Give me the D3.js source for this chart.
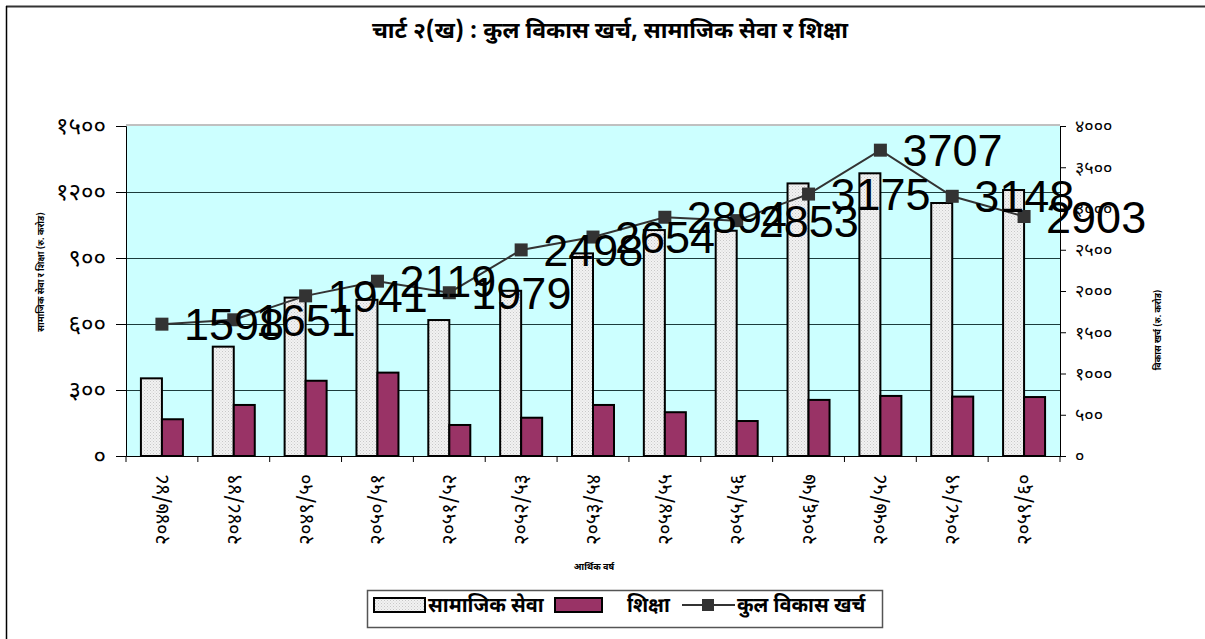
<!DOCTYPE html>
<html>
<head>
<meta charset="utf-8">
<script src="https://cdn.jsdelivr.net/npm/d3@7"></script>
<style>
  body { margin: 0; background: #fff; }
  svg { display: block; }
</style>
</head>
<body>
<svg id="chart" width="1205" height="639"></svg>
<script>
// data
var years = ["२०४७/४८", "२०४८/४९", "२०४९/५०", "२०५०/५१", "२०५१/५२", "२०५२/५३", "२०५३/५४",
  "२०५४/५५", "२०५५/५६", "२०५६/५७", "२०५७/५८", "२०५८/५९", "२०५९/६०"];
var samajik = [353, 497, 720, 710, 618, 751, 921, 1027, 1024, 1239, 1285, 1150, 1209];
var shiksha = [167, 232, 342, 379, 141, 174, 232, 199, 159, 255, 273, 270, 268];
var kul = [1598, 1651, 1941, 2119, 1979, 2498, 2654, 2894, 2853, 3175, 3707, 3148, 2903];
var leftTicks = [0, 300, 600, 900, 1200, 1500];
var rightTicks = [0, 500, 1000, 1500, 2000, 2500, 3000, 3500, 4000];

var devDigits = "०१२३४५६७८९";
function dev(n) {
  return String(n).replace(/[0-9]/g, function(c) { return devDigits[+c]; });
}

var svg = d3.select("#chart");
var devFont = "'Noto Sans Devanagari', 'Lohit Devanagari', 'FreeSans', 'Noto Sans', sans-serif";

var plot = { left: 126, right: 1060, top: 126, bottom: 456 };

var x = d3.scaleBand()
  .domain(years)
  .range([plot.left, plot.right]);

var yLeft = d3.scaleLinear().domain([0, 1500]).range([plot.bottom, plot.top]);
var yRight = d3.scaleLinear().domain([0, 4000]).range([plot.bottom, plot.top]);

// dotted fill for the light bars
var defs = svg.append("defs");
var pat = defs.append("pattern")
  .attr("id", "dots")
  .attr("patternUnits", "userSpaceOnUse")
  .attr("width", 3).attr("height", 3);
pat.append("rect").attr("width", 3).attr("height", 3).attr("fill", "#f2f2f2");
pat.append("rect").attr("x", 0).attr("y", 0).attr("width", 1).attr("height", 1).attr("fill", "#c8c8c8");
pat.append("rect").attr("x", 1.5).attr("y", 1.5).attr("width", 1).attr("height", 1).attr("fill", "#d4d4d4");

// outer frame (top and left only)
svg.append("line").attr("x1", 6).attr("x2", 1205).attr("y1", 6.5).attr("y2", 6.5)
  .attr("stroke", "#333").attr("stroke-width", 2);
svg.append("line").attr("x1", 6.5).attr("x2", 6.5).attr("y1", 6).attr("y2", 639)
  .attr("stroke", "#000").attr("stroke-width", 1.5);

// title
svg.append("text")
  .attr("x", 610).attr("y", 38)
  .attr("text-anchor", "middle")
  .attr("font-family", devFont)
  .attr("font-size", 23).attr("font-weight", "bold")
  .text("चार्ट २(ख) : कुल विकास खर्च, सामाजिक सेवा र शिक्षा");

// plot background
svg.append("rect")
  .attr("x", plot.left).attr("y", plot.top)
  .attr("width", plot.right - plot.left).attr("height", plot.bottom - plot.top)
  .attr("fill", "#ccffff");
svg.append("line")
  .attr("x1", plot.left).attr("x2", plot.right)
  .attr("y1", plot.top - 1).attr("y2", plot.top - 1)
  .attr("stroke", "#c0c0c0").attr("stroke-width", 2);

// gridlines
svg.append("g")
  .selectAll("line")
  .data(leftTicks.slice(1, -1))
  .join("line")
  .attr("x1", plot.left).attr("x2", plot.right)
  .attr("y1", function(d) { return Math.round(yLeft(d)) + 0.5; })
  .attr("y2", function(d) { return Math.round(yLeft(d)) + 0.5; })
  .attr("stroke", "#1c3c3c").attr("stroke-width", 1);

// bars
var barW = 21;
var bars = svg.append("g");
bars.selectAll("rect.sam")
  .data(years)
  .join("rect")
  .attr("class", "sam")
  .attr("x", function(d) { return x(d) + x.bandwidth() / 2 - barW; })
  .attr("y", function(d, i) { return yLeft(samajik[i]); })
  .attr("width", barW)
  .attr("height", function(d, i) { return plot.bottom - yLeft(samajik[i]); })
  .attr("fill", "url(#dots)")
  .attr("stroke", "#000").attr("stroke-width", 2);
bars.selectAll("rect.shi")
  .data(years)
  .join("rect")
  .attr("class", "shi")
  .attr("x", function(d) { return x(d) + x.bandwidth() / 2; })
  .attr("y", function(d, i) { return yLeft(shiksha[i]); })
  .attr("width", barW)
  .attr("height", function(d, i) { return plot.bottom - yLeft(shiksha[i]); })
  .attr("fill", "#993366")
  .attr("stroke", "#000").attr("stroke-width", 2);

// axes
var leftAxis = svg.append("g")
  .attr("transform", "translate(" + plot.left + ",0)")
  .call(d3.axisLeft(yLeft).tickValues(leftTicks).tickSize(10).tickPadding(10).tickFormat(dev));
leftAxis.selectAll("text")
  .attr("font-family", devFont).attr("font-size", 24).attr("fill", "#000");
leftAxis.selectAll("line, path").attr("stroke", "#000");

var rightAxis = svg.append("g")
  .attr("transform", "translate(" + plot.right + ",0)")
  .call(d3.axisRight(yRight).tickValues(rightTicks).tickSize(6).tickPadding(9).tickFormat(dev));
rightAxis.selectAll("text")
  .attr("font-family", devFont).attr("font-size", 18).attr("fill", "#000");
rightAxis.selectAll("line, path").attr("stroke", "#000");

var bottomAxis = svg.append("g")
  .attr("transform", "translate(0," + plot.bottom + ")")
  .call(d3.axisBottom(x).tickSize(0).tickFormat(""));
bottomAxis.select("path").attr("stroke", "#000");
bottomAxis.selectAll("line.sep")
  .data(years.concat(["end"]))
  .join("line")
  .attr("class", "sep")
  .attr("x1", function(d, i) { return plot.left + i * x.step(); })
  .attr("x2", function(d, i) { return plot.left + i * x.step(); })
  .attr("y1", 0).attr("y2", 6)
  .attr("stroke", "#000");

svg.append("g")
  .selectAll("text")
  .data(years)
  .join("text")
  .attr("transform", function(d) {
    return "translate(" + (x(d) + x.bandwidth() / 2 + 7) + "," + 474 + ") rotate(-90)";
  })
  .attr("text-anchor", "end")
  .attr("font-family", devFont)
  .attr("font-size", 20)
  .text(function(d) { return d; });

// axis titles
svg.append("text")
  .attr("transform", "translate(44,272) rotate(-90)")
  .attr("text-anchor", "middle")
  .attr("font-family", devFont).attr("font-size", 9).attr("font-weight", "bold")
  .text("सामाजिक सेवा र शिक्षा (रु. करोड)");
svg.append("text")
  .attr("transform", "translate(1161,330) rotate(-90)")
  .attr("text-anchor", "middle")
  .attr("font-family", devFont).attr("font-size", 9).attr("font-weight", "bold")
  .text("विकास खर्च (रु. करोड)");
svg.append("text")
  .attr("x", 594).attr("y", 570)
  .attr("text-anchor", "middle")
  .attr("font-family", devFont).attr("font-size", 9).attr("font-weight", "bold")
  .text("आर्थिक वर्ष");

// total development expenditure line
var line = d3.line()
  .x(function(d, i) { return x(years[i]) + x.bandwidth() / 2; })
  .y(function(d) { return yRight(d); });
svg.append("path")
  .datum(kul)
  .attr("d", line)
  .attr("fill", "none")
  .attr("stroke", "#333").attr("stroke-width", 2);
svg.append("g")
  .selectAll("rect")
  .data(kul)
  .join("rect")
  .attr("x", function(d, i) { return x(years[i]) + x.bandwidth() / 2 - 6.5; })
  .attr("y", function(d) { return yRight(d) - 6.5; })
  .attr("width", 13).attr("height", 13)
  .attr("fill", "#333");

svg.append("g")
  .selectAll("text")
  .data(kul)
  .join("text")
  .attr("x", function(d, i) { return x(years[i]) + x.bandwidth() / 2 + 22; })
  .attr("y", function(d) { return yRight(d); })
  .attr("dy", "0.36em")
  .attr("font-family", "'Liberation Sans', Arial, sans-serif")
  .attr("font-size", 45)
  .attr("fill", "#000")
  .text(function(d) { return d; });

// legend
var lg = svg.append("g");
lg.append("rect")
  .attr("x", 367.5).attr("y", 590.5).attr("width", 515).attr("height", 37)
  .attr("fill", "#fff").attr("stroke", "#555").attr("stroke-width", 1.5);
lg.append("rect")
  .attr("x", 374).attr("y", 598).attr("width", 51).attr("height", 14)
  .attr("fill", "url(#dots)").attr("stroke", "#000").attr("stroke-width", 2);
lg.append("text")
  .attr("x", 428).attr("y", 612)
  .attr("font-family", devFont).attr("font-size", 20).attr("font-weight", "bold")
  .text("सामाजिक सेवा");
lg.append("rect")
  .attr("x", 555).attr("y", 598).attr("width", 47).attr("height", 14)
  .attr("fill", "#993366").attr("stroke", "#000").attr("stroke-width", 2);
lg.append("text")
  .attr("x", 627).attr("y", 612)
  .attr("font-family", devFont).attr("font-size", 20).attr("font-weight", "bold")
  .text("शिक्षा");
lg.append("line")
  .attr("x1", 682).attr("x2", 735).attr("y1", 605).attr("y2", 605)
  .attr("stroke", "#333").attr("stroke-width", 2);
lg.append("rect")
  .attr("x", 702).attr("y", 599).attr("width", 12).attr("height", 12)
  .attr("fill", "#333");
lg.append("text")
  .attr("x", 737).attr("y", 612)
  .attr("font-family", devFont).attr("font-size", 20).attr("font-weight", "bold")
  .text("कुल विकास खर्च");
</script>
</body>
</html>
